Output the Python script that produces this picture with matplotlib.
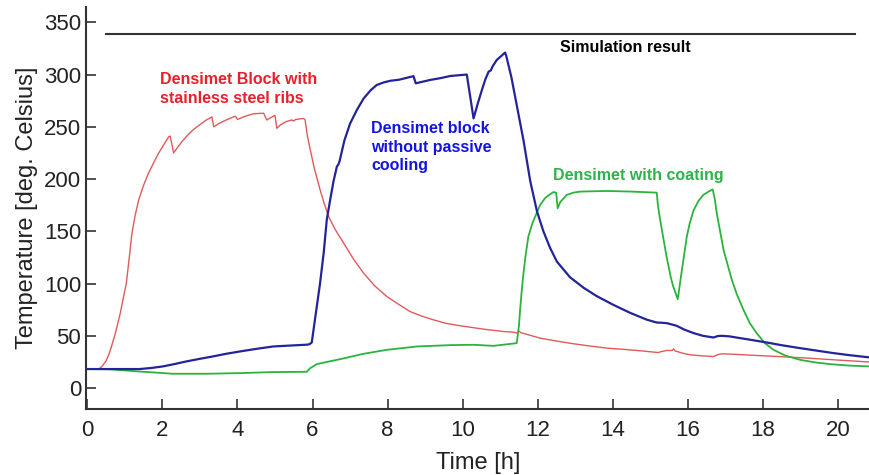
# Temperature curves of the three Densimet variants
import matplotlib
matplotlib.use('Agg')
import matplotlib.pyplot as plt

plt.rcParams['font.family'] = ['Liberation Sans', 'DejaVu Sans']

# Densimet Block with stainless steel ribs (red)
t_red = [0, 0.3, 0.39, 0.5, 0.59, 0.68, 0.75, 0.82, 0.88, 0.95, 1.04, 1.12, 1.19, 1.28,
         1.37, 1.5, 1.63, 1.76, 1.9, 2.04, 2.17, 2.21, 2.3, 2.4, 2.55, 2.7, 2.85, 3.0,
         3.15, 3.32, 3.37, 3.5, 3.7, 3.9, 3.95, 4.0, 4.2, 4.43, 4.7, 4.78, 4.9, 5.0,
         5.05, 5.15, 5.3, 5.45, 5.5, 5.55, 5.75, 5.8, 5.87, 5.94, 6.05, 6.2, 6.3, 6.43,
         6.6, 6.83, 7.1, 7.36, 7.65, 7.98, 8.3, 8.6, 8.9, 9.22, 9.55, 9.93, 10.25, 10.55,
         11.09, 11.35, 11.45, 11.5, 11.55, 11.8, 12.06, 12.5, 12.95, 13.4, 13.84, 14.3,
         14.73, 15.21, 15.3, 15.44, 15.58, 15.62, 15.66, 15.85, 16.06, 16.4, 16.68, 16.8,
         16.9, 17.3, 17.83, 18.5, 19.17, 20.0, 20.85]
temp_red = [18, 18, 20.7, 26, 33.5, 44, 52.6, 63, 71.7, 84.4, 100, 125, 148, 166,
            180, 194, 205.5, 215, 224.7, 233, 240.5, 241, 225, 230, 237, 243, 248, 252,
            256, 259.5, 250, 253, 256.5, 259.5, 260, 257, 260, 262.5, 263, 256.5, 259, 261,
            248.5, 252, 255, 256.5, 255.5, 257, 258, 257, 240, 228, 210, 190, 178, 164,
            152, 138.6, 123, 110, 98, 87.6, 80, 73.2, 69, 65.3, 62, 59.6, 58, 56.4,
            54.1, 53.5, 52.5, 54.5, 53, 50.5, 47.8, 45, 42.4, 40.2, 38.2, 37,
            35.7, 34, 35, 36, 36, 37.5, 35.5, 33.5, 31.8, 30.8, 30.2, 32,
            32.8, 32.2, 31.2, 30, 28.7, 26.8, 24.9]

# Densimet block without passive cooling (blue)
t_blue = [0, 0.5, 1.39, 1.7, 2.01, 2.3, 2.64, 3.0, 3.35, 3.7, 4.06, 4.5, 4.95, 5.41, 5.85,
          5.92, 5.98, 6.2, 6.3, 6.38, 6.47, 6.56, 6.65, 6.69, 6.72, 6.85, 7.0, 7.18, 7.36,
          7.55, 7.71, 7.9, 8.07, 8.3, 8.47, 8.69, 8.75, 9.13, 9.4, 9.67, 10.11, 10.29, 10.4,
          10.51, 10.6, 10.69, 10.75, 10.8, 10.91, 11.13, 11.16, 11.3, 11.46, 11.62, 11.8,
          11.98, 12.15, 12.33, 12.51, 12.86, 13.22, 13.57, 14.02, 14.46, 14.9, 15.17, 15.3,
          15.44, 15.7, 15.9, 16.15, 16.4, 16.68, 16.8, 16.9, 17.1, 17.39, 17.7, 18.1, 18.5,
          18.99, 19.4, 19.87, 20.3, 20.85]
temp_blue = [18.2, 18.2, 18.2, 19.2, 20.7, 22.8, 25.5, 28, 30.3, 32.8, 35, 37.5, 39.8, 40.7, 41.5,
             42, 43.6, 100, 130, 161, 180, 198, 212, 214, 217, 237, 253, 266, 277,
             285, 290, 292.5, 294, 295, 296.5, 298.5, 291.6, 294.8, 296.5, 298.6, 300, 258, 272,
             285, 295, 302.7, 304, 308, 314, 321, 318, 297, 267, 237, 198,
             169, 150, 134, 121, 106, 96, 88, 79.5, 72, 65.5, 62.7, 62.5,
             62.1, 59.6, 56, 52.6, 50, 48.4, 49.8, 50, 49.5, 47.8, 46, 43.6, 41,
             38.2, 36, 33.5, 31.5, 29.3]

# Densimet with coating (green)
t_green = [0, 0.6, 1.04, 1.4, 1.75, 2.28, 3.17, 4.06, 4.94, 5.85, 5.94, 6.12, 6.74, 7.36,
           7.98, 8.78, 9.67, 10.29, 10.82, 11.44, 11.5, 11.53, 11.57, 11.62, 11.68, 11.75,
           11.85, 11.93, 12.06, 12.2, 12.35, 12.42, 12.49, 12.53, 12.6, 12.77, 12.95, 13.13,
           13.84, 14.5, 15.17, 15.2, 15.26, 15.43, 15.55, 15.61, 15.68, 15.73, 15.78, 15.84,
           15.97, 16.05, 16.15, 16.28, 16.41, 16.55, 16.66, 16.72, 16.77, 16.95, 17.17, 17.3,
           17.48, 17.65, 17.83, 18.05, 18.28, 18.6, 18.99, 19.4, 19.79, 20.3, 20.85]
temp_green = [18.2, 18, 16.8, 15.8, 15, 13.7, 13.7, 14.3, 15.3, 15.6, 19.1, 23, 27.7, 32.8,
              36.6, 39.8, 41.1, 41.4, 40.4, 43, 60, 75, 92, 110, 128, 145,
              157, 164, 175, 182, 186, 187.5, 187, 172, 178, 184.8, 187, 188,
              188.6, 188, 187, 175, 161, 126, 105, 97, 90, 85, 98, 113,
              145, 158, 170, 179, 184.8, 188, 190, 180, 167, 132, 103.5, 90,
              74.8, 62, 52.6, 43, 36.6, 31, 27, 24.5, 22.9, 21.5, 20.7]

# simulation result line
t_sim = [0.5, 20.45]
temp_sim = [339, 339]

fig = plt.figure(figsize=(8.7, 4.75), dpi=100)
ax = fig.add_axes([0.099, 0.139, 0.901, 0.846])

ax.plot(t_sim, temp_sim, color='#333333', lw=1.5)
ax.plot(t_red, temp_red, color='#e05a5a', lw=1.0)
ax.plot(t_green, temp_green, color='#2bb33c', lw=1.3)
ax.plot(t_blue, temp_blue, color='#23239b', lw=1.6)

ax.text(1.94, 286, 'Densimet Block with\nstainless steel ribs', color='#e8202a',
        fontsize=11.5, fontweight='bold', ha='left', va='center', linespacing=1.3)
ax.text(7.56, 230.6, 'Densimet block\nwithout passive\ncooling', color='#1414e0',
        fontsize=11.5, fontweight='bold', ha='left', va='center', linespacing=1.3)
ax.text(12.41, 203, 'Densimet with coating', color='#2db34a',
        fontsize=11.5, fontweight='bold', ha='left', va='center')
ax.text(12.6, 326, 'Simulation result', color='black',
        fontsize=11.5, fontweight='bold', ha='left', va='center')

ax.set_xlim(-0.03, 20.85)
ax.set_ylim(-20, 364.5)
ax.set_xticks(range(0, 21, 2))
ax.set_yticks(range(0, 351, 50))
ax.tick_params(direction='in', length=7, width=1.2, labelsize=16, color='#333333',
               labelcolor='#222222')
ax.tick_params(axis='x', pad=8)
for side in ['top', 'right']:
    ax.spines[side].set_visible(False)
for side in ['left', 'bottom']:
    ax.spines[side].set_linewidth(1.5)
    ax.spines[side].set_color('#333333')

ax.set_xlabel('Time [h]', fontsize=17, color='#222222', labelpad=8)
ax.set_ylabel('Temperature [deg. Celsius]', fontsize=17, color='#222222')

fig.savefig('out.png', dpi=100)
